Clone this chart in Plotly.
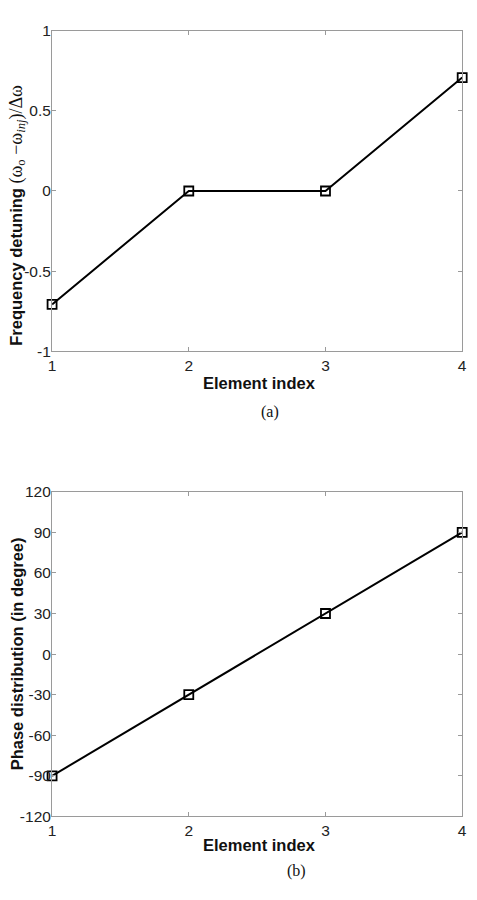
import plotly.graph_objects as go

# ---- data ----
element_index = [1, 2, 3, 4]
freq_detuning = [-0.7071, 0.0, 0.0, 0.7071]
phase_deg = [-90, -30, 30, 90]

x_ticks = [1, 2, 3, 4]
x_ticklabels = ["1", "2", "3", "4"]
y1_ticks = [-1, -0.5, 0, 0.5, 1]
y1_ticklabels = ["-1", "-0.5", "0", "0.5", "1"]
y2_ticks = [-120, -90, -60, -30, 0, 30, 60, 90, 120]
y2_ticklabels = ["-120", "-90", "-60", "-30", "0", "30", "60", "90", "120"]

W, H = 477, 900
def px(x): return x / W
def py(y): return 1 - y / H

fig = go.Figure()
line_style = dict(color="black", width=2)
marker_style = dict(symbol="square-open", size=9, color="black", line=dict(width=1.8, color="black"))

fig.add_trace(go.Scatter(x=element_index, y=freq_detuning, mode="lines+markers",
                         line=line_style, marker=marker_style, cliponaxis=False,
                         xaxis="x", yaxis="y", showlegend=False))
fig.add_trace(go.Scatter(x=element_index, y=phase_deg, mode="lines+markers",
                         line=line_style, marker=marker_style, cliponaxis=False,
                         xaxis="x2", yaxis="y2", showlegend=False))

axis_common = dict(showgrid=False, zeroline=False, showline=True, linecolor="#9a9a9a",
                   linewidth=1.2, mirror="ticks", ticks="inside", ticklen=4,
                   tickcolor="#9a9a9a", tickwidth=1,
                   tickfont=dict(family="Liberation Sans, Arial", size=15.5, color="#222"))

xdom = [px(49), px(467)]
fig.update_layout(
    width=W, height=H, margin=dict(l=0, r=0, t=0, b=0),
    paper_bgcolor="white", plot_bgcolor="white",
    xaxis=dict(domain=xdom, range=[1, 4], tickvals=x_ticks, ticktext=x_ticklabels,
               anchor="y", **axis_common),
    yaxis=dict(domain=[py(349), py(22)], range=[-1, 1], tickvals=y1_ticks,
               ticktext=y1_ticklabels, anchor="x", ticklabelstandoff=-3, **axis_common),
    xaxis2=dict(domain=xdom, range=[1, 4], tickvals=x_ticks, ticktext=x_ticklabels,
                anchor="y2", **axis_common),
    yaxis2=dict(domain=[py(823), py(492)], range=[-120, 120], tickvals=y2_ticks,
                ticktext=y2_ticklabels, anchor="x2", ticklabelstandoff=-3, **axis_common),
)

title_font = dict(family="Liberation Sans, Arial", size=16.5, color="#111")
serif_font = dict(family="Liberation Serif, Times New Roman", size=16, color="#111")

annotations = [
    dict(x=px(260), y=py(381), text="<b>Element index</b>", font=title_font),
    dict(x=px(260), y=py(852), text="<b>Element index</b>", font=title_font),
    dict(x=px(13), y=py(210), textangle=-90,
         text="<b>Frequency detuning</b> <span style='font-family:Liberation Serif;font-size:18px'>"
              "(ω<sub>o</sub> −ω<sub><i>inj</i></sub>)/Δω</span>",
         font=title_font),
    dict(x=px(13), y=py(657), textangle=-90,
         text="<b>Phase distribution (in degree)</b>", font=title_font),
    dict(x=px(271), y=py(411), text="(a)", font=serif_font),
    dict(x=px(298), y=py(879), text="(b)", font=serif_font),
]
for a in annotations:
    a.update(xref="paper", yref="paper", showarrow=False, xanchor="center", yanchor="middle")
    fig.add_annotation(**a)

fig.write_html("out.html")
